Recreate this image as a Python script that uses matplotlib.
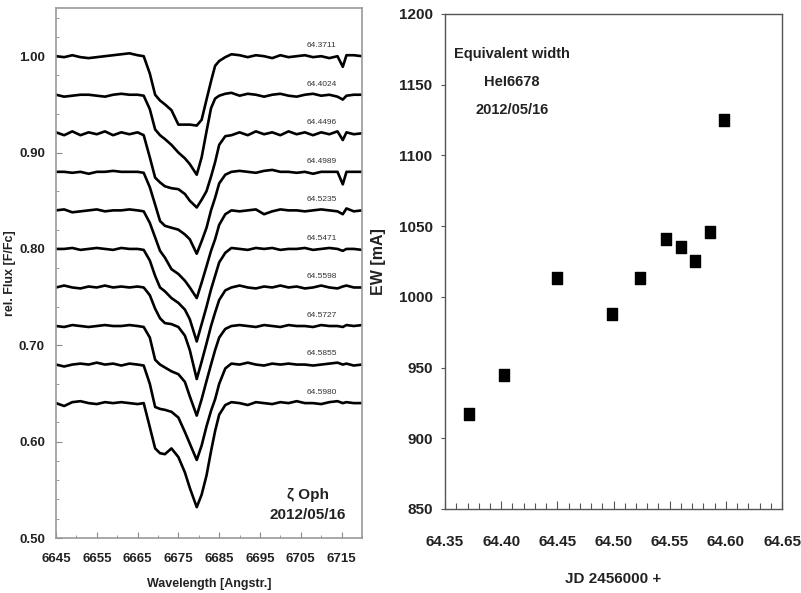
"""
HeI 6678 line profiles of zeta Oph and their equivalent widths
"""

import matplotlib.pyplot as plt
from matplotlib.ticker import MultipleLocator, FormatStrFormatter
from matplotlib.path import Path

# wavelength grid of the spectra [Angstr.]
wave = [6645, 6647, 6649, 6651, 6653, 6655, 6657, 6659, 6661, 6663, 6665,
        6666.5, 6668, 6669.3, 6670.5, 6671.7, 6673.3, 6675, 6676.6, 6677.8,
        6679.5, 6680.7, 6681.9, 6683, 6684, 6685, 6686.5,
        6688, 6690, 6692, 6694, 6696, 6698, 6700, 6702, 6704, 6706, 6708,
        6710, 6712, 6714, 6715.3, 6716.2, 6718, 6720]

# observation times (JD 2456000 +)
jd = [64.3711, 64.4024, 64.4496, 64.4989, 64.5235,
      64.5471, 64.5598, 64.5727, 64.5855, 64.5980]

# continuum level of each spectrum in the stacked plot
levels = [1.00, 0.96, 0.92, 0.88, 0.84, 0.80, 0.76, 0.72, 0.68, 0.64]

# normalised flux of each spectrum on the wave grid
flux_3711 = [1.000, 0.999, 1.001, 0.999, 0.998, 0.999, 1.000, 1.001, 1.002, 1.003, 1.001,
             1.000, 0.982, 0.960, 0.954, 0.950, 0.944, 0.929, 0.929, 0.929,
             0.928, 0.934, 0.955, 0.974, 0.990, 0.995, 0.999,
             1.002, 1.001, 0.999, 1.001, 1.000, 0.998, 1.001, 0.999, 1.000, 1.001, 0.999,
             1.000, 0.998, 1.000, 0.989, 1.001, 1.001, 1.000]
flux_4024 = [1.000, 0.998, 0.999, 1.000, 1.000, 0.999, 0.998, 1.000, 1.001, 1.000, 1.000,
             0.999, 0.985, 0.964, 0.958, 0.954, 0.948, 0.940, 0.934, 0.928,
             0.917, 0.935, 0.962, 0.986, 0.996, 0.999, 1.001,
             1.002, 0.999, 1.001, 1.000, 0.998, 1.000, 1.001, 0.999, 0.998, 1.000, 1.001,
             0.999, 1.000, 0.998, 0.995, 0.999, 1.000, 1.000]
flux_4496 = [1.001, 0.998, 1.002, 0.998, 1.001, 0.999, 1.002, 0.998, 1.001, 0.999, 1.001,
             0.998, 0.975, 0.954, 0.949, 0.945, 0.943, 0.942, 0.937, 0.930,
             0.923, 0.931, 0.940, 0.955, 0.970, 0.988, 0.997,
             0.998, 1.001, 0.998, 1.002, 0.999, 1.001, 0.998, 1.002, 0.999, 1.001, 0.998,
             1.001, 0.999, 1.002, 0.993, 1.001, 0.999, 1.000]
flux_4989 = [1.000, 1.000, 0.999, 1.000, 0.998, 1.000, 1.000, 1.001, 1.000, 1.000, 1.000,
             0.999, 0.984, 0.966, 0.949, 0.944, 0.942, 0.940, 0.935, 0.930,
             0.915, 0.928, 0.942, 0.960, 0.973, 0.988, 0.997,
             1.000, 1.001, 1.000, 0.999, 1.001, 1.002, 1.000, 1.000, 0.999, 1.000, 0.998,
             1.000, 1.000, 1.000, 0.987, 1.000, 1.000, 1.000]
flux_5235 = [1.000, 1.001, 0.998, 0.999, 1.000, 1.001, 0.999, 1.000, 1.000, 1.001, 1.000,
             0.999, 0.987, 0.972, 0.958, 0.951, 0.939, 0.934, 0.927, 0.920,
             0.909, 0.925, 0.942, 0.958, 0.970, 0.985, 0.996,
             1.000, 0.999, 1.000, 1.001, 0.996, 0.999, 1.001, 1.000, 1.000, 0.999, 1.000,
             1.001, 1.000, 0.999, 0.996, 1.002, 0.999, 1.000]
flux_5471 = [1.000, 1.000, 1.001, 0.999, 1.000, 1.001, 1.000, 0.999, 1.001, 1.000, 1.000,
             0.999, 0.988, 0.972, 0.960, 0.956, 0.949, 0.944, 0.937, 0.927,
             0.904, 0.922, 0.940, 0.958, 0.972, 0.986, 0.996,
             1.001, 1.000, 0.999, 1.001, 1.000, 1.001, 0.999, 1.000, 1.000, 1.001, 0.999,
             1.000, 1.001, 1.000, 0.998, 1.000, 1.000, 0.999]
flux_5598 = [1.000, 1.002, 1.000, 0.999, 1.001, 1.000, 1.002, 1.000, 1.001, 1.000, 1.001,
             1.000, 0.992, 0.978, 0.968, 0.963, 0.962, 0.959, 0.950, 0.935,
             0.905, 0.923, 0.942, 0.960, 0.974, 0.987, 0.997,
             1.000, 1.002, 1.000, 0.999, 1.001, 1.000, 1.002, 1.000, 1.001, 0.999, 1.000,
             1.002, 1.000, 0.999, 1.001, 1.002, 1.000, 1.000]
flux_5727 = [1.000, 0.999, 1.001, 1.000, 0.999, 1.000, 1.001, 1.000, 1.000, 1.001, 1.000,
             0.999, 0.988, 0.965, 0.960, 0.957, 0.953, 0.950, 0.942, 0.927,
             0.907, 0.924, 0.943, 0.960, 0.975, 0.988, 0.997,
             1.000, 1.001, 1.000, 0.999, 1.001, 1.000, 0.999, 1.001, 1.000, 1.000, 0.999,
             1.001, 1.000, 1.000, 0.999, 1.001, 1.000, 1.001]
flux_5855 = [1.000, 0.998, 1.000, 1.001, 1.000, 1.002, 1.000, 1.001, 0.999, 1.001, 1.000,
             0.999, 0.980, 0.956, 0.954, 0.953, 0.951, 0.945, 0.930, 0.918,
             0.901, 0.916, 0.936, 0.952, 0.964, 0.980, 0.996,
             1.001, 1.000, 1.002, 1.000, 0.999, 1.001, 1.000, 1.001, 1.000, 1.000, 0.999,
             1.000, 1.001, 1.002, 1.000, 1.001, 0.999, 1.000]
flux_5980 = [1.000, 0.997, 1.001, 1.002, 1.000, 0.999, 1.001, 1.000, 1.001, 1.000, 0.999,
             1.000, 0.975, 0.953, 0.948, 0.947, 0.953, 0.944, 0.928, 0.912,
             0.892, 0.905, 0.925, 0.950, 0.971, 0.988, 0.998,
             1.001, 1.000, 0.998, 1.001, 1.000, 0.999, 1.001, 1.000, 1.002, 1.000, 1.000,
             0.999, 1.001, 1.002, 1.000, 1.001, 1.000, 1.000]

spectra = [flux_3711, flux_4024, flux_4496, flux_4989, flux_5235,
           flux_5471, flux_5598, flux_5727, flux_5855, flux_5980]

# equivalent width of HeI 6678 [mA]
ew = [917, 945, 1013, 988, 1013, 1041, 1035, 1025, 1046, 1125]

plt.rcParams['font.family'] = ['Liberation Sans', 'DejaVu Sans']

fig = plt.figure(figsize=(8.01, 5.93), dpi=100)
ax1 = fig.add_axes([0.0699, 0.0927, 0.382, 0.8938])
ax2 = fig.add_axes([0.5556, 0.1417, 0.4207, 0.8347])

# left: stacked spectra
for flux, lev, t in zip(spectra, levels, jd):
    y = [f - (1.0 - lev) for f in flux]
    ax1.plot(wave, y, '-', color='black', lw=1.9, solid_joinstyle='round')
    ax1.text(6710.2, lev + 0.011, '%.4f' % t, fontsize=6,
             color='#333333', ha='center', va='center')

ax1.set_xlim(6645, 6720)
ax1.set_ylim(0.50, 1.05)
ax1.xaxis.set_minor_locator(MultipleLocator(5))
ax1.yaxis.set_major_locator(MultipleLocator(0.1))
ax1.yaxis.set_minor_locator(MultipleLocator(0.02))
ax1.yaxis.set_major_formatter(FormatStrFormatter('%.2f'))
ax1.set_xticks([6645, 6655, 6665, 6675, 6685, 6695, 6705, 6715])
ax1.tick_params(which='both', direction='in', color='#888888')
ax1.tick_params(which='major', length=4, width=0.8)
ax1.tick_params(which='minor', length=2.5, width=0.6)
ax1.tick_params(axis='x', pad=11)
ax1.tick_params(axis='y', pad=8)
for lab in ax1.get_xticklabels() + ax1.get_yticklabels():
    lab.set_fontsize(9.5)
    lab.set_fontweight('bold')
    lab.set_color('#222222')
for sp in ax1.spines.values():
    sp.set_color('#999999')
    sp.set_linewidth(1.2)
ax1.set_xlabel('Wavelength [Angstr.]', fontsize=9, fontweight='bold', labelpad=9, color='#222222')
ax1.set_ylabel('rel. Flux [F/Fc]', fontsize=9, fontweight='bold', labelpad=2, color='#222222')
ax1.text(6706.8, 0.545, '\u03b6 Oph', fontsize=11, fontweight='bold', ha='center', va='center',
         color='#222222')
ax1.text(6706.8, 0.524, '2012/05/16', fontsize=11, fontweight='bold', ha='center', va='center',
         color='#222222')

# right: equivalent width vs time
box = Path([(-0.4, -0.5), (0.4, -0.5), (0.4, 0.5), (-0.4, 0.5), (-0.4, -0.5)],
           [Path.MOVETO, Path.LINETO, Path.LINETO, Path.LINETO, Path.CLOSEPOLY])
ax2.plot(jd, ew, ls='none', marker=box, markersize=9, color='black')

ax2.set_xlim(64.35, 64.65)
ax2.set_ylim(850, 1200)
ax2.xaxis.set_major_locator(MultipleLocator(0.05))
ax2.xaxis.set_minor_locator(MultipleLocator(0.01))
ax2.yaxis.set_major_locator(MultipleLocator(50))
ax2.xaxis.set_major_formatter(FormatStrFormatter('%.2f'))
ax2.tick_params(axis='x', which='both', direction='in', color='#555555', pad=19)
ax2.tick_params(axis='x', which='major', length=6, width=0.8)
ax2.tick_params(axis='x', which='minor', length=4, width=0.8)
ax2.tick_params(axis='y', direction='out', length=3, width=0.8, color='#555555', pad=6)
for lab in ax2.get_xticklabels() + ax2.get_yticklabels():
    lab.set_fontsize(11)
    lab.set_fontweight('bold')
    lab.set_color('#222222')
for sp in ax2.spines.values():
    sp.set_color('#555555')
    sp.set_linewidth(1.0)
ax2.set_xlabel('JD 2456000 +', fontsize=11, fontweight='bold', labelpad=16, color='#222222')
ax2.set_ylabel('EW [mA]', fontsize=11.5, fontweight='bold', labelpad=9, color='#222222')
for yy, txt in zip([1172, 1152, 1132], ['Equivalent width', 'HeI6678', '2012/05/16']):
    ax2.text(64.4096, yy, txt, fontsize=10.5, fontweight='bold', ha='center', va='center',
             color='#222222')

fig.savefig('out.png', dpi=100)
plt.close(fig)
